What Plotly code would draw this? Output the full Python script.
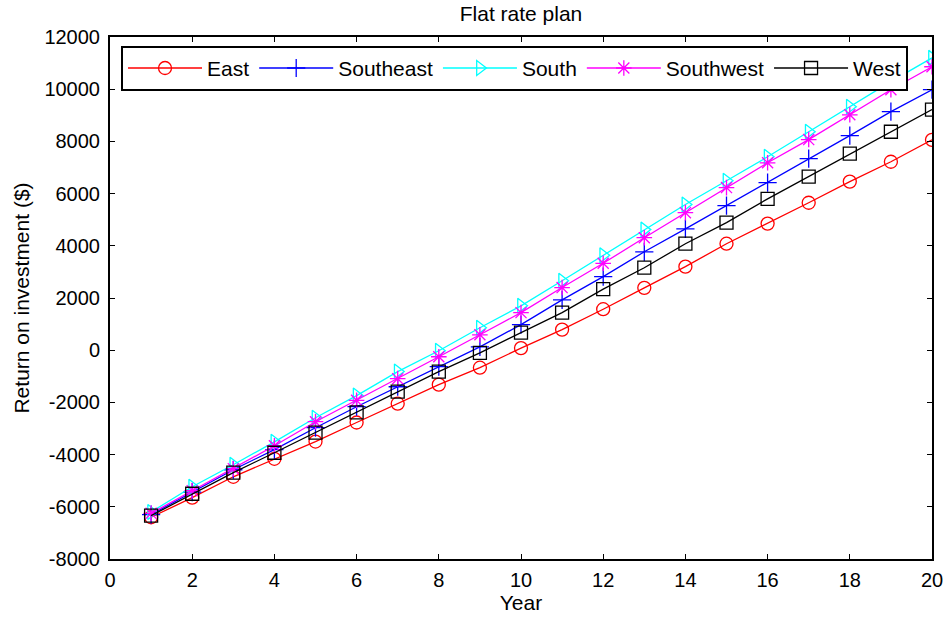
import plotly.graph_objects as go

years = list(range(1, 21))

east = [-6400, -5650, -4850, -4160, -3500, -2770, -2050, -1320, -670, 80,
        790, 1570, 2390, 3200, 4080, 4850, 5650, 6460, 7220, 8060]
southeast = [-6300, -5440, -4580, -3810, -2970, -2165, -1400, -630, 130, 980,
             1930, 2820, 3770, 4650, 5540, 6420, 7340, 8220, 9140, 9980]
south = [-6200, -5230, -4390, -3510, -2590, -1740, -820, -20, 860, 1700,
         2660, 3640, 4620, 5580, 6490, 7410, 8370, 9330, 10290, 11200]
southwest = [-6250, -5380, -4540, -3660, -2740, -1920, -1090, -250, 590, 1440,
             2400, 3330, 4310, 5270, 6230, 7180, 8070, 9020, 9980, 10860]
west = [-6340, -5500, -4690, -3930, -3160, -2380, -1590, -820, -100, 670,
        1440, 2340, 3160, 4080, 4890, 5800, 6650, 7530, 8370, 9220]

x_ticks = list(range(0, 21, 2))
y_ticks = list(range(-8000, 12001, 2000))
y_tick_labels = [str(v) for v in y_ticks]  # plain hyphen for negatives

series = [
    ("East", east, "#ff0000", "circle-open"),
    ("Southeast", southeast, "#0000ff", "cross-thin-open"),
    ("South", south, "#00ffff", "triangle-right-open"),
    ("Southwest", southwest, "#ff00ff", "asterisk-open"),
    ("West", west, "#000000", "square-open"),
]

FONT = "Liberation Sans, Arial, sans-serif"

fig = go.Figure()
for name, vals, color, symbol in series:
    fig.add_trace(go.Scatter(
        x=years, y=vals, name=name, mode="lines+markers",
        line=dict(color=color, width=1.3),
        marker=dict(symbol=symbol, size=13, color=color,
                    line=dict(color=color, width=1.3)),
    ))

axis_common = dict(
    showline=True, linecolor="black", linewidth=2, mirror="ticks",
    ticks="inside", ticklen=5, tickwidth=1.3, tickcolor="black",
    showgrid=False, zeroline=False, automargin=False,
    tickfont=dict(family=FONT, size=20, color="black"),
)

fig.update_layout(
    width=947, height=619,
    margin=dict(l=110, r=15, t=37, b=60),
    paper_bgcolor="white", plot_bgcolor="white",
    font=dict(family=FONT, size=21, color="black"),
    title=dict(text="Flat rate plan", x=521 / 947, xanchor="center",
               y=1 - 14 / 619, yanchor="middle", yref="container",
               font=dict(family=FONT, size=21, color="black")),
    xaxis=dict(range=[0, 20], tickvals=x_ticks,
               title=dict(text="Year", standoff=4,
                          font=dict(family=FONT, size=21)),
               ticklabelstandoff=2, **axis_common),
    yaxis=dict(range=[-8000, 12000], tickvals=y_ticks, ticktext=y_tick_labels,
               title=dict(text="Return on investment ($)", standoff=9,
                          font=dict(family=FONT, size=21)),
               ticklabelstandoff=4, **axis_common),
    legend=dict(orientation="h", x=0.0134, y=0.983, xanchor="left",
                yanchor="top", bordercolor="black", borderwidth=2,
                bgcolor="white", itemwidth=74,
                font=dict(family=FONT, size=21, color="black")),
    showlegend=True,
)

fig.write_html("out.html")
